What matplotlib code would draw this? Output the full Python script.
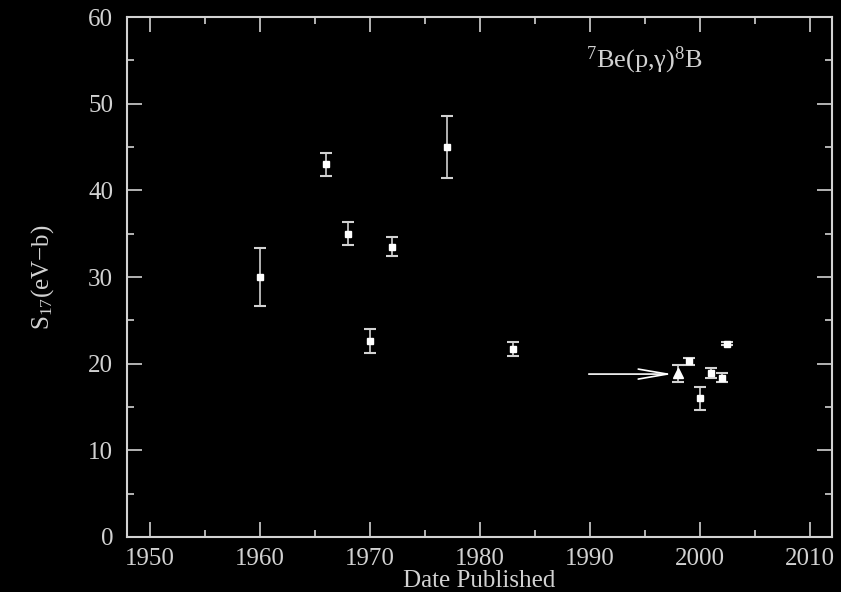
import matplotlib
matplotlib.use("Agg")
import matplotlib.pyplot as plt
from matplotlib.ticker import MultipleLocator

# S17 measurements vs. publication year
years = [1960, 1966, 1968, 1970, 1972, 1977, 1983, 1999, 2000, 2001, 2002, 2002.5]
s17 = [30.0, 43.0, 35.0, 22.6, 33.5, 45.0, 21.7, 20.3, 16.0, 18.9, 18.4, 22.3]
s17_err = [3.3, 1.3, 1.35, 1.4, 1.1, 3.6, 0.8, 0.4, 1.3, 0.55, 0.55, 0.2]

# highlighted result (triangle)
tri_year = [1998]
tri_s17 = [18.9]
tri_err = [1.0]

fg = "#d2d2d2"
plt.rcParams["font.family"] = ["Liberation Serif", "DejaVu Serif"]
plt.rcParams["mathtext.fontset"] = "custom"
plt.rcParams["mathtext.rm"] = "Liberation Serif"
plt.rcParams["mathtext.it"] = "Liberation Serif:italic"

fig = plt.figure(figsize=(8.41, 5.92), dpi=100, facecolor="black")
ax = fig.add_axes([0.151, 0.093, 0.838, 0.878], facecolor="black")

ax.errorbar(years, s17, yerr=s17_err, fmt="s", ms=5, color="white",
            ecolor=fg, elinewidth=1.2, capsize=4.5, capthick=1.5)
ax.errorbar(tri_year, tri_s17, yerr=tri_err, fmt="^", ms=7, color="white",
            ecolor=fg, elinewidth=1.2, capsize=4.5, capthick=1.5)

ax.annotate("", xy=(1997.5, tri_s17[0] - 0.1), xytext=(1989.9, tri_s17[0] - 0.1),
            arrowprops=dict(arrowstyle="->,head_length=2.1,head_width=0.36",
                            color="white", lw=1.2, mutation_scale=10,
                            shrinkA=0, shrinkB=0))

ax.text(0.652, 0.917, r"$^{7}$Be(p,γ)$^{8}$B", transform=ax.transAxes,
        color=fg, fontsize=19, ha="left", va="center")

ax.set_xlim(1947.9, 2012.0)
ax.set_ylim(0, 60)
ax.xaxis.set_major_locator(MultipleLocator(10))
ax.xaxis.set_minor_locator(MultipleLocator(5))
ax.yaxis.set_major_locator(MultipleLocator(10))
ax.yaxis.set_minor_locator(MultipleLocator(5))
ax.tick_params(which="both", direction="in", top=True, right=True,
               color=fg, labelcolor=fg, labelsize=18, width=1.2)
ax.tick_params(which="major", length=11, pad=8)
ax.tick_params(which="minor", length=5)
ax.tick_params(axis="y", pad=10)
for sp in ax.spines.values():
    sp.set_color(fg)
    sp.set_linewidth(1.5)

ax.set_xlabel("Date Published", color=fg, fontsize=18, labelpad=0)
ax.set_ylabel(r"S$_{17}$(eV$-$b)", color=fg, fontsize=18, labelpad=23)

fig.savefig("out.png", dpi=100, facecolor="black")
